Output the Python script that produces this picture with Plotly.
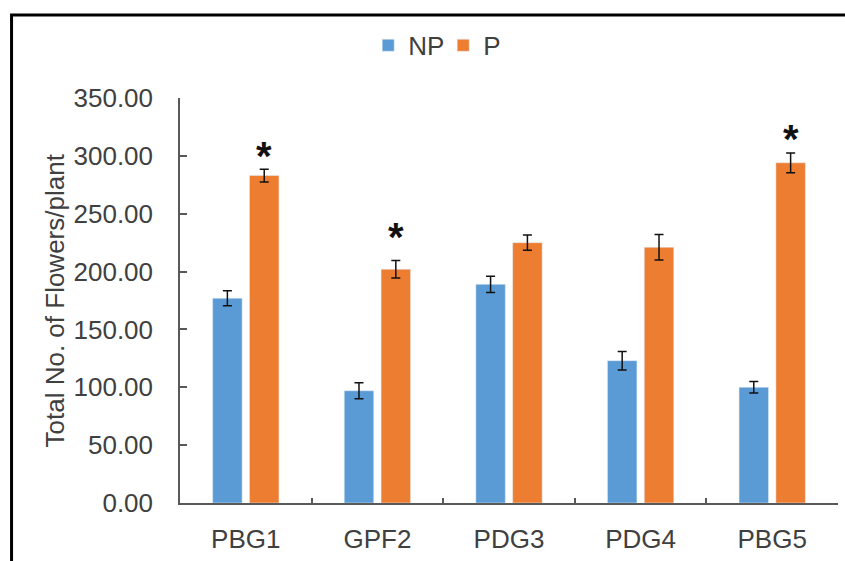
import plotly.graph_objects as go

# Genotypes and treatment means (flowers per plant) with standard errors
categories = ["PBG1", "GPF2", "PDG3", "PDG4", "PBG5"]
np_mean = [177, 97, 189, 123, 100]
np_err = [6.5, 7, 7, 8, 5]
p_mean = [283, 202, 225, 221, 294]
p_err = [5.5, 7.5, 6.5, 11, 8.5]
# Significance markers above the P bars (None = no marker)
star_y = [308, 238, None, None, 322]
y_ticks = [0, 50, 100, 150, 200, 250, 300, 350]

BLUE = "#5B9BD5"
ORANGE = "#ED7D31"
TEXT = "#404040"
AXIS = "#595959"
FONT = "Liberation Sans, Arial, sans-serif"
FS = 26

fig = go.Figure()
fig.add_trace(go.Bar(
    name="NP", x=categories, y=np_mean, marker_color=BLUE,
    error_y=dict(type="data", array=np_err, color="#111111", thickness=1.5, width=4.5),
))
fig.add_trace(go.Bar(
    name="P", x=categories, y=p_mean, marker_color=ORANGE,
    error_y=dict(type="data", array=p_err, color="#111111", thickness=1.5, width=4.5),
))

# Asterisks centred over the P bar of each marked group
for cat, sy in zip(categories, star_y):
    if sy is None:
        continue
    fig.add_annotation(
        x=cat, y=sy, xref="x", yref="y", text="<b>*</b>", showarrow=False,
        xshift=18.5, yshift=-9, yanchor="middle",
        font=dict(family=FONT, size=40, color="#111111"),
    )

# Y-axis title
fig.add_annotation(
    x=-0.19, y=0.5, xref="paper", yref="paper", text="Total No. of Flowers/plant",
    textangle=-90, showarrow=False, xanchor="center", yanchor="middle",
    font=dict(family=FONT, size=FS, color=TEXT),
)

# Outer frame of the chart
fig.add_shape(
    type="rect", xref="paper", yref="paper",
    x0=-0.256, x1=1.2, y0=-0.3, y1=1.205,
    line=dict(color="#000000", width=3), fillcolor="rgba(0,0,0,0)",
)

fig.update_layout(
    width=845, height=561,
    margin=dict(l=180, r=7, t=98, b=54),
    paper_bgcolor="white", plot_bgcolor="white",
    barmode="group", bargap=0.44, bargroupgap=0.2,
    font=dict(family=FONT, size=FS, color=TEXT),
    showlegend=True,
    legend=dict(
        orientation="h", x=0.4, y=1.13, xanchor="center", yanchor="middle",
        font=dict(family=FONT, size=FS, color=TEXT), itemwidth=30,
        entrywidth=30, entrywidthmode="pixels",
        bgcolor="rgba(0,0,0,0)",
    ),
    xaxis=dict(
        showline=True, linecolor=AXIS, linewidth=1.5,
        ticks="inside", tickson="boundaries", ticklen=5, tickcolor=AXIS, tickwidth=1.5,
        showgrid=False, zeroline=False, ticklabelstandoff=12,
        tickfont=dict(family=FONT, size=FS, color=TEXT),
    ),
    yaxis=dict(
        range=[0, 350], tickvals=y_ticks, tickformat=".2f",
        showline=True, linecolor=AXIS, linewidth=1.5,
        ticks="inside", ticklen=7, tickcolor=AXIS, tickwidth=1.5,
        showgrid=False, zeroline=False, ticklabelstandoff=20,
        tickfont=dict(family=FONT, size=FS, color=TEXT),
    ),
)

fig.write_html("out.html")
